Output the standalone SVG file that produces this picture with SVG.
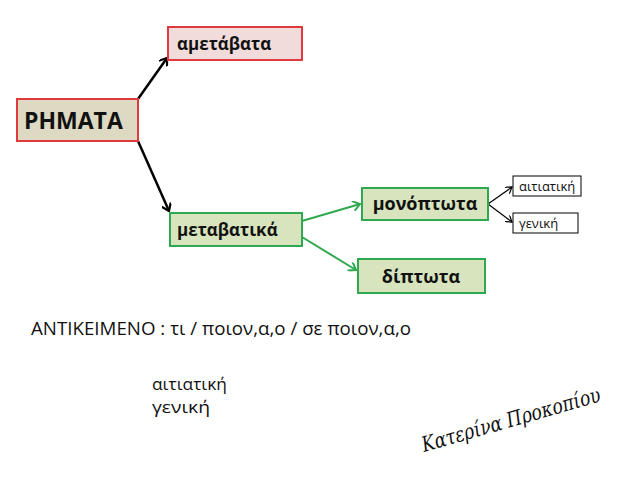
<svg xmlns="http://www.w3.org/2000/svg" width="638" height="479" viewBox="0 0 638 479">
<defs>
<style>
.t{font-family:"Open Sans","Liberation Sans",sans-serif;fill:#111}
.b{font-weight:bold}
.red{stroke:#e03a3e;stroke-width:2}
.grn{stroke:#2fa84f;stroke-width:2;fill:#d7e4bd}
.k{stroke:#000;fill:#fff;stroke-width:1}
</style>
<marker id="ak" markerWidth="10" markerHeight="10" refX="8" refY="5" orient="auto" markerUnits="userSpaceOnUse"><path d="M1,0 L8,5 L1,10" fill="none" stroke="#000" stroke-width="2.2"/></marker>
<marker id="ag" markerWidth="10" markerHeight="10" refX="8" refY="5" orient="auto" markerUnits="userSpaceOnUse"><path d="M1,0 L8,5 L1,10" fill="none" stroke="#2fa84f" stroke-width="2"/></marker>
<marker id="as" markerWidth="8" markerHeight="8" refX="7" refY="4" orient="auto" markerUnits="userSpaceOnUse"><path d="M1,0 L7,4 L1,8" fill="none" stroke="#000" stroke-width="1.2"/></marker>
</defs>
<rect width="638" height="479" fill="#fff"/>
<g id="connectors" fill="none">
<line x1="138" y1="99" x2="167" y2="58" stroke="#000" stroke-width="2.5" marker-end="url(#ak)"/>
<line x1="138" y1="141" x2="169" y2="211" stroke="#000" stroke-width="2.5" marker-end="url(#ak)"/>
<line x1="302" y1="221" x2="360" y2="204" stroke="#2fa84f" stroke-width="2" marker-end="url(#ag)"/>
<line x1="302" y1="237" x2="356" y2="270" stroke="#2fa84f" stroke-width="2" marker-end="url(#ag)"/>
<line x1="488" y1="204" x2="512" y2="187" stroke="#000" stroke-width="1.2" marker-end="url(#as)"/>
<line x1="488" y1="204" x2="512" y2="222" stroke="#000" stroke-width="1.2" marker-end="url(#as)"/>
</g>
<g id="n-rimata">
<rect x="17" y="99" width="121" height="42" fill="#ddd9c3" class="red"/>
<text x="24" y="129" class="t b" font-size="23">ΡΗΜΑΤΑ</text>
</g>
<g id="n-ametavata">
<rect x="168" y="27" width="134" height="33" fill="#f2dcdb" class="red"/>
<text x="177" y="50" class="t b" font-size="17">αμετάβατα</text>
</g>
<g id="n-metavatika">
<rect x="170" y="213" width="132" height="33" class="grn"/>
<text x="177" y="236" class="t b" font-size="17">μεταβατικά</text>
</g>
<g id="n-monoptota">
<rect x="362" y="188" width="126" height="32" class="grn"/>
<text x="425" y="210" class="t b" font-size="18" text-anchor="middle">μονόπτωτα</text>
</g>
<g id="n-diptota">
<rect x="358" y="259" width="127" height="34" class="grn"/>
<text x="421" y="283" class="t b" font-size="18" text-anchor="middle">δίπτωτα</text>
</g>
<g id="n-aitiatiki">
<rect x="513" y="176" width="68" height="20" class="k"/>
<text x="519" y="191" class="t" font-size="13">αιτιατική</text>
</g>
<g id="n-geniki">
<rect x="513" y="213" width="65" height="20" class="k"/>
<text x="519" y="228" class="t" font-size="13">γενική</text>
</g>
<text x="31" y="335" class="t" font-size="18.5" textLength="380" lengthAdjust="spacingAndGlyphs">ΑΝΤΙΚΕΙΜΕΝΟ : τι /  ποιον,α,ο / σε ποιον,α,ο</text>
<text x="152" y="390" class="t" font-size="17" textLength="75" lengthAdjust="spacingAndGlyphs">αιτιατική</text>
<text x="152" y="413" class="t" font-size="17" textLength="58" lengthAdjust="spacingAndGlyphs">γενική</text>
<text transform="translate(424,452) rotate(-16)" font-family="DejaVu Serif" font-style="italic" font-size="21" fill="#111" textLength="185" lengthAdjust="spacingAndGlyphs">Κατερίνα Προκοπίου</text>
</svg>
